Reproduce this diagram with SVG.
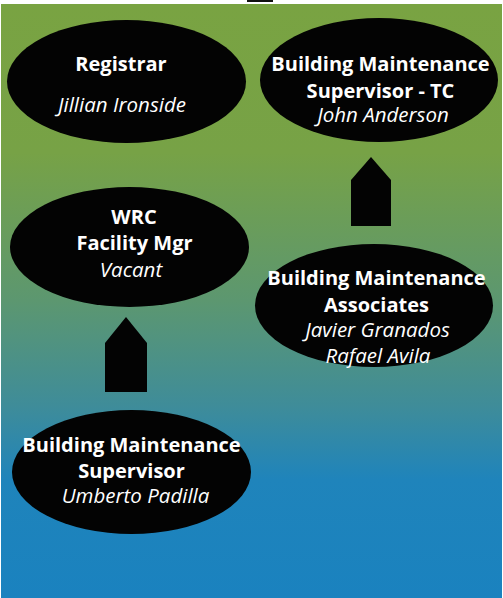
<svg xmlns="http://www.w3.org/2000/svg" width="503" height="598" viewBox="0 0 503 598">
<defs>
<linearGradient id="bg" x1="0" y1="0" x2="0" y2="1">
<stop offset="0" stop-color="#79a342"/>
<stop offset="0.25" stop-color="#77a246"/>
<stop offset="0.5" stop-color="#5c9770"/>
<stop offset="0.68" stop-color="#3e8c9a"/>
<stop offset="0.8" stop-color="#1f84bb"/>
<stop offset="1" stop-color="#1a82bf"/>
</linearGradient>
<style>
.n{fill:#030303}
.b{font-family:"Open Sans","Noto Sans",sans-serif;font-weight:700;font-size:20px;fill:#fff;text-anchor:middle}
.i{font-family:"Open Sans","Noto Sans",sans-serif;font-style:italic;font-size:20.5px;fill:#fff;text-anchor:middle}
.a{fill:#030303}
</style>
</defs>
<rect x="0" y="0" width="503" height="598" fill="#fff"/>
<rect x="1" y="4" width="501" height="594" fill="url(#bg)"/>
<rect x="247" y="0" width="26" height="2" fill="#111"/>
<g id="connectors">
<polygon class="a" points="351,226 351,180 371,157 391,180 391,226"/>
<polygon class="a" points="105,392 105,343 126,317 147,343 147,392"/>
</g>
<g id="registrar">
<ellipse class="n" cx="126.5" cy="81.5" rx="119.5" ry="61.5"/>
<text class="b" x="121" y="71">Registrar</text>
<text class="i" x="122" y="112">Jillian Ironside</text>
</g>
<g id="bm-supervisor-tc">
<ellipse class="n" cx="379" cy="80" rx="119" ry="62"/>
<text class="b" x="380.5" y="71">Building Maintenance</text>
<text class="b" x="380.5" y="98">Supervisor - TC</text>
<text class="i" x="383" y="122">John Anderson</text>
</g>
<g id="wrc-facility-mgr">
<ellipse class="n" cx="129.5" cy="247" rx="119.5" ry="60"/>
<text class="b" x="134" y="224">WRC</text>
<text class="b" x="134.5" y="250">Facility Mgr</text>
<text class="i" x="131" y="276.5">Vacant</text>
</g>
<g id="bm-associates">
<ellipse class="n" cx="374" cy="305.5" rx="119" ry="61.5"/>
<text class="b" x="376.5" y="285">Building Maintenance</text>
<text class="b" x="376.5" y="312">Associates</text>
<text class="i" x="377.5" y="336.5">Javier Granados</text>
<text class="i" x="378" y="362.5">Rafael Avila</text>
</g>
<g id="bm-supervisor">
<ellipse class="n" cx="131.5" cy="472" rx="119.5" ry="62"/>
<text class="b" x="131.5" y="451.5">Building Maintenance</text>
<text class="b" x="131.5" y="478">Supervisor</text>
<text class="i" x="135.5" y="503">Umberto Padilla</text>
</g>
</svg>
